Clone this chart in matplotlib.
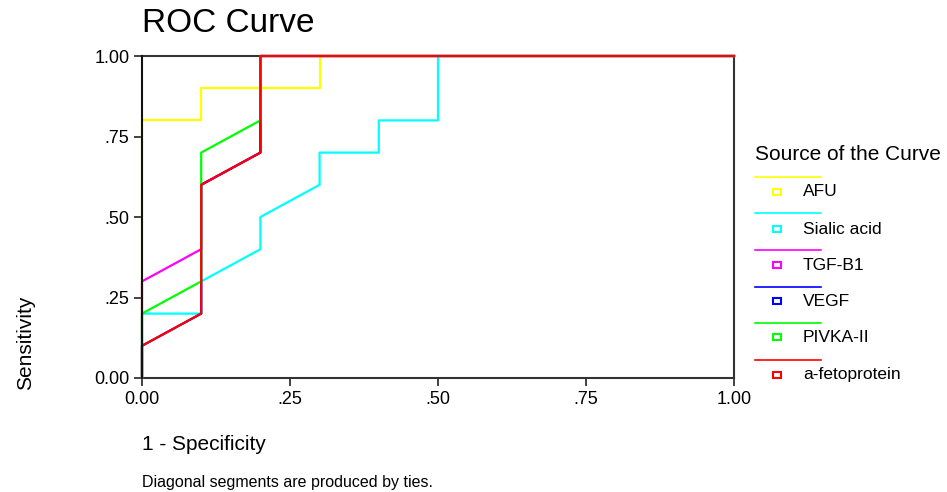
import matplotlib
matplotlib.use("Agg")
import matplotlib.pyplot as plt
from matplotlib.lines import Line2D
from matplotlib.patches import Rectangle

plt.rcParams["font.family"] = ["Liberation Sans", "DejaVu Sans"]

SERIES = ["AFU", "Sialic acid", "TGF-B1", "VEGF", "PIVKA-II", "a-fetoprotein"]
COLORS = ["#ffff00", "#00ffff", "#ff00ff", "#0000ff", "#00ff00", "#ff0000"]

# ROC points (1 - specificity, sensitivity)
AFU_X = [0, 0, 0.1, 0.1, 0.3, 0.3, 1.0]
AFU_Y = [0, 0.8, 0.8, 0.9, 0.9, 1.0, 1.0]
SIALIC_X = [0, 0, 0.1, 0.1, 0.2, 0.2, 0.3, 0.3, 0.4, 0.4, 0.5, 0.5, 1.0]
SIALIC_Y = [0, 0.2, 0.2, 0.3, 0.4, 0.5, 0.6, 0.7, 0.7, 0.8, 0.8, 1.0, 1.0]
TGF_X = [0, 0, 0.1, 0.1, 0.2, 0.2, 1.0]
TGF_Y = [0, 0.3, 0.4, 0.6, 0.7, 1.0, 1.0]
VEGF_X = [0, 0, 0.1, 0.1, 0.2, 0.2, 1.0]
VEGF_Y = [0, 0.1, 0.2, 0.6, 0.7, 1.0, 1.0]
PIVKA_X = [0, 0, 0.1, 0.1, 0.2, 0.2, 1.0]
PIVKA_Y = [0, 0.2, 0.3, 0.7, 0.8, 1.0, 1.0]
AFP_X = [0, 0, 0.1, 0.1, 0.2, 0.2, 1.0]
AFP_Y = [0, 0.1, 0.2, 0.6, 0.7, 1.0, 1.0]

CURVES = [(AFU_X, AFU_Y), (SIALIC_X, SIALIC_Y), (TGF_X, TGF_Y),
          (VEGF_X, VEGF_Y), (PIVKA_X, PIVKA_Y), (AFP_X, AFP_Y)]

TICKS = [0, 0.25, 0.5, 0.75, 1.0]
X_TICK_LABELS = ["0.00", ".25", ".50", ".75", "1.00"]
Y_TICK_LABELS = ["0.00", ".25", ".50", ".75", "1.00"]

W, H = 947, 492
fig = plt.figure(figsize=(W / 100, H / 100), dpi=100)
ax = fig.add_axes([142 / W, 1 - 378 / H, (734 - 142) / W, (378 - 56) / H])

for (xs, ys), c in zip(CURVES, COLORS):
    ax.plot(xs, ys, color=c, lw=1.6, clip_on=False, zorder=3)

ax.set_xlim(0, 1)
ax.set_ylim(0, 1)
ax.set_xticks(TICKS)
ax.set_xticklabels(X_TICK_LABELS, fontsize=13)
ax.set_yticks(TICKS)
ax.set_yticklabels(Y_TICK_LABELS, fontsize=13)
ax.tick_params(direction="out", length=6, width=1.2, color="#222222", pad=3)
for name, sp in ax.spines.items():
    sp.set_color("#333333")
    sp.set_linewidth(1.5)
ax.spines["left"].set_color("#111111")
ax.spines["left"].set_zorder(4)

fig.text(142 / W, 1 - 24 / H, "ROC Curve", fontsize=24, va="center", ha="left")
fig.text(142 / W, 1 - 445 / H, "1 - Specificity", fontsize=15, va="center", ha="left")
fig.text(142 / W, 1 - 483 / H, "Diagonal segments are produced by ties.", fontsize=11.5,
         va="center", ha="left")
fig.text(26 / W, 1 - 343 / H, "Sensitivity", fontsize=15, rotation=90, va="center",
         ha="center")

# legend drawn in figure pixels
fig.text(755 / W, 1 - 155 / H, "Source of the Curve", fontsize=15, va="center", ha="left")
line_y = [177, 213, 250, 287, 323, 360]
box_y = [192, 229, 265, 301, 337, 375]
for name, c, ly, by in zip(SERIES, COLORS, line_y, box_y):
    fig.add_artist(Line2D([755 / W, 821 / W], [1 - ly / H, 1 - ly / H],
                          color=c, lw=1.2, transform=fig.transFigure))
    fig.add_artist(Rectangle((773 / W, 1 - (by + 3) / H), 8 / W, 6 / H,
                             fill=False, edgecolor=c, lw=1.5, transform=fig.transFigure))
    fig.text(803 / W, 1 - by / H, name, fontsize=12.5, va="center", ha="left")

fig.savefig("out.png", dpi=100)
plt.close(fig)
